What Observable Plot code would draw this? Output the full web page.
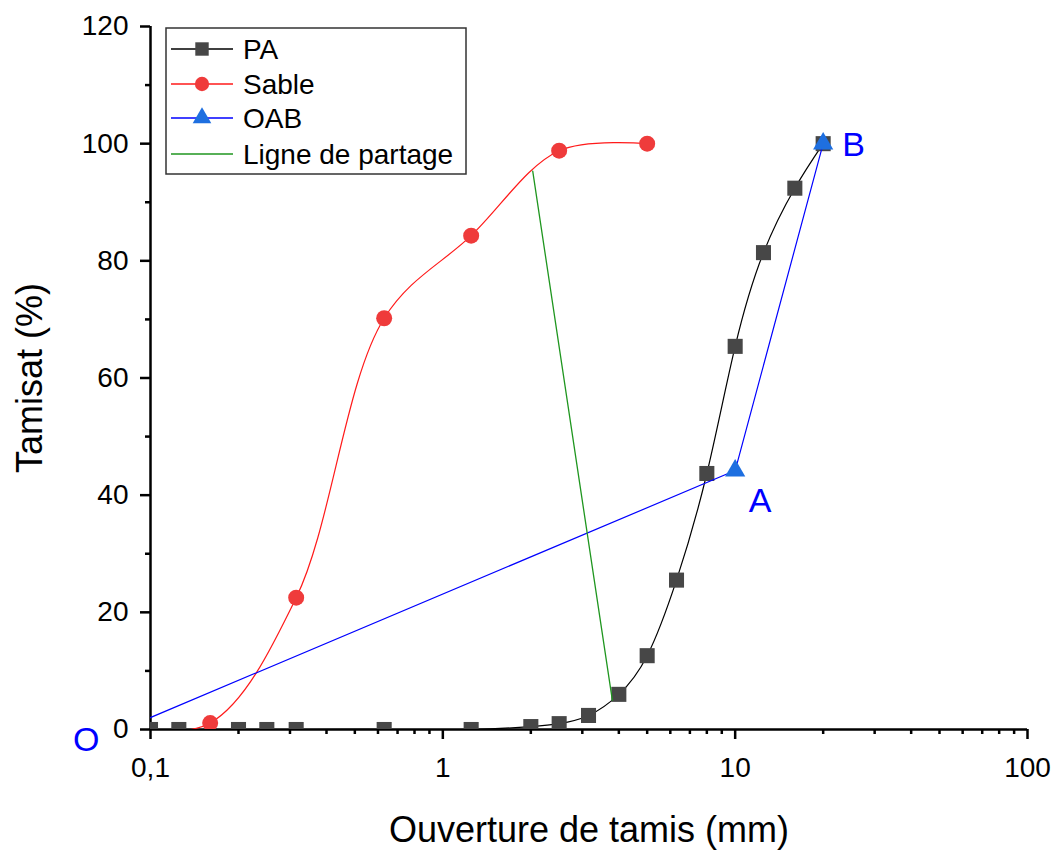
<!DOCTYPE html>
<html>
<head>
<meta charset="utf-8">
<script src="https://cdn.jsdelivr.net/npm/d3@7"></script>
<script src="https://cdn.jsdelivr.net/npm/@observablehq/plot@0.6"></script>
<style>
  html, body { margin: 0; padding: 0; background: #fff; }
  #chart { width: 1057px; height: 853px; }
</style>
</head>
<body>
<div id="chart"></div>
<script>
// ---------- data ----------
const xTitle = "Ouverture de tamis (mm)";
const yTitle = "Tamisat (%)";

const xTicks = [0.1, 1, 10, 100];
const xTickLabels = ["0,1", "1", "10", "100"];
const xMinorTicks = [0.2, 0.3, 0.4, 0.5, 0.6, 0.7, 0.8, 0.9, 2, 3, 4, 5, 6, 7, 8, 9, 20, 30, 40, 50, 60, 70, 80, 90];
const yTicks = [0, 20, 40, 60, 80, 100, 120];
const yMinorTicks = [10, 30, 50, 70, 90, 110];

// PA (gravel)
const paSize = [0.1, 0.125, 0.2, 0.25, 0.315, 0.63, 1.25, 2, 2.5, 3.15, 4, 5, 6.3, 8, 10, 12.5, 16, 20];
const paPassing = [0, 0, 0, 0, 0, 0, 0, 0.5, 1, 2.4, 6, 12.6, 25.5, 43.7, 65.4, 81.4, 92.4, 100];

// Sable (sand)
const sableSize = [0.08, 0.16, 0.315, 0.63, 1.25, 2.5, 5];
const sablePassing = [0, 1.1, 22.5, 70.2, 84.3, 98.8, 100];

// OAB reference line
const oabLabels = ["O", "A", "B"];
const oabSize = [0.08, 10, 20];
const oabPassing = [0, 44.2, 100];

// Ligne de partage
const partSize = [2.03, 3.8];
const partPassing = [95.3, 5];

const seriesNames = ["PA", "Sable", "OAB", "Ligne de partage"];

// ---------- tables ----------
const pa = paSize.map((x, i) => ({x, y: paPassing[i]}));
const sable = sableSize.map((x, i) => ({x, y: sablePassing[i]}));
const oab = oabSize.map((x, i) => ({x, y: oabPassing[i], label: oabLabels[i]}));
const part = partSize.map((x, i) => ({x, y: partPassing[i]}));

const C = {
  paLine: "#000000", paFill: "#474747",
  sLine: "#ff1a1a", sFill: "#ef3b3b",
  oLine: "#0000ff", oFill: "#1e6fe0",
  green: "#1f961f", label: "#0000ff"
};

const font = "'Liberation Sans', Arial, sans-serif";

const plot = Plot.plot({
  width: 1057,
  height: 853,
  marginLeft: 150,
  marginRight: 30,
  marginTop: 26,
  marginBottom: 124,
  x: {type: "log", domain: [0.1, 100], label: null},
  y: {domain: [0, 120], label: null},
  style: {fontFamily: font, background: "#fff", color: "#000", overflow: "visible"},
  marks: [
    // axes
    Plot.axisY(yTicks, {tickSize: 10, tickPadding: 12, fontSize: 28, strokeWidth: 2.5, tickFormat: d => String(d), label: null}),
    Plot.axisY(yMinorTicks, {tickSize: 5, strokeWidth: 2.5, tickFormat: () => "", label: null}),
    Plot.axisX(xTicks, {tickSize: 10, tickPadding: 18, fontSize: 28, strokeWidth: 2.5, tickFormat: d => xTickLabels[xTicks.indexOf(d)], label: null}),
    Plot.axisX(xMinorTicks, {tickSize: 5, strokeWidth: 2.5, tickFormat: () => "", label: null}),
    Plot.ruleX([0.1], {strokeWidth: 2.5, stroke: "#000"}),
    Plot.ruleY([0], {strokeWidth: 2.5, stroke: "#000"}),
    // titles
    Plot.text([xTitle], {frameAnchor: "bottom", dy: 101, fontSize: 36, lineAnchor: "middle", textAnchor: "middle", fill: "#000"}),
    Plot.text([yTitle], {frameAnchor: "left", dx: -120, rotate: -90, fontSize: 36, lineAnchor: "middle", textAnchor: "middle", fill: "#000"}),
    // PA
    Plot.line(pa, {x: "x", y: "y", stroke: C.paLine, strokeWidth: 1.2, curve: "natural", clip: true}),
    Plot.dot(pa, {x: "x", y: "y", symbol: "square", r: 8.5, fill: C.paFill, stroke: "none", clip: true}),
    // Sable
    Plot.line(sable, {x: "x", y: "y", stroke: C.sLine, strokeWidth: 1.2, curve: "catmull-rom", clip: true}),
    Plot.dot(sable, {x: "x", y: "y", symbol: "circle", r: 8, fill: C.sFill, stroke: "none", clip: true}),
    // OAB
    Plot.line(oab, {x: "x", y: "y", stroke: C.oLine, strokeWidth: 1.2, clip: true}),
    Plot.dot(oab, {x: "x", y: "y", symbol: "triangle", r: 7.5, fill: C.oFill, stroke: "none", clip: true}),
    // Ligne de partage
    Plot.line(part, {x: "x", y: "y", stroke: C.green, strokeWidth: 1.3, clip: true}),
    // point labels
    Plot.text(oab.filter(d => d.label === "O"), {x: "x", y: "y", text: "label", dx: -36, dy: 11, fontSize: 34, fill: C.label}),
    Plot.text(oab.filter(d => d.label === "A"), {x: "x", y: "y", text: "label", dx: 25, dy: 31, fontSize: 34, fill: C.label}),
    Plot.text(oab.filter(d => d.label === "B"), {x: "x", y: "y", text: "label", dx: 19, dy: 1, fontSize: 34, fill: C.label, textAnchor: "start"})
  ]
});

// ---------- legend (inside the frame, top-left) ----------
const svg = d3.select(plot);
const lg = svg.append("g").attr("font-family", font).attr("text-anchor", "start");
lg.append("rect")
  .attr("x", 166).attr("y", 28).attr("width", 300).attr("height", 146)
  .attr("fill", "#fff").attr("stroke", "#333").attr("stroke-width", 1.5);
const legendStyle = [
  {line: C.paLine, fill: C.paFill, sym: d3.symbolSquare, size: 180},
  {line: C.sLine, fill: C.sFill, sym: d3.symbolCircle, size: 160},
  {line: C.oLine, fill: C.oFill, sym: d3.symbolTriangle, size: 150},
  {line: C.green, fill: null, sym: null}
];
const rowY = [49, 84, 118, 154];
seriesNames.forEach((name, i) => {
  const s = legendStyle[i];
  const y = rowY[i];
  lg.append("line").attr("x1", 171).attr("x2", 233).attr("y1", y).attr("y2", y)
    .attr("stroke", s.line).attr("stroke-width", 1.3);
  if (s.sym) {
    lg.append("path").attr("d", d3.symbol(s.sym, s.size)())
      .attr("transform", `translate(202,${y})`).attr("fill", s.fill);
  }
  lg.append("text").attr("x", 243).attr("y", y).attr("dy", "0.35em")
    .attr("text-anchor", "start")
    .attr("font-size", 28).attr("fill", "#000").text(name);
});

document.getElementById("chart").appendChild(plot);
</script>
</body>
</html>
